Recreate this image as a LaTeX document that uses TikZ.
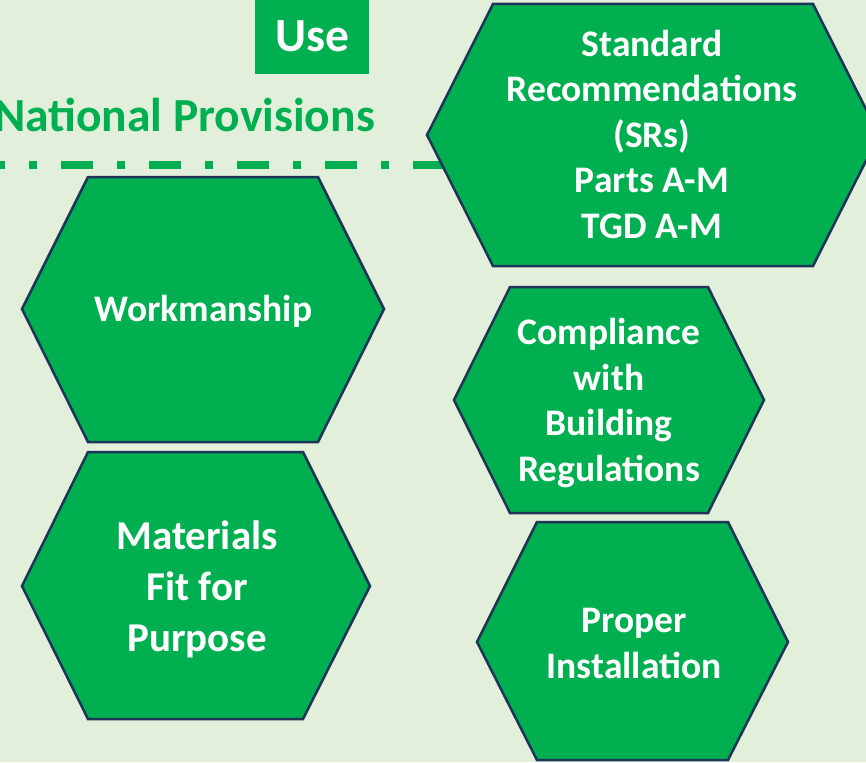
\documentclass[tikz,border=0pt]{standalone}
\usepackage{fontspec}
\setmainfont{Carlito}
\definecolor{bg}{HTML}{E2EFDA}
\definecolor{grn}{HTML}{00B050}
\definecolor{edgec}{HTML}{1F3557}
\begin{document}
\begin{tikzpicture}[x=1pt,y=-1pt,
  hexa/.style={fill=grn, draw=edgec, line width=2.5pt, line join=miter},
  hextext/.style={text=white, font=\bfseries\fontsize{37.5}{45.5}\selectfont, align=center, inner sep=0pt},
  bigtext/.style={text=white, font=\bfseries\fontsize{41}{51}\selectfont, align=center, inner sep=0pt},
  titletext/.style={text=grn, font=\bfseries\fontsize{47.5}{57}\selectfont, inner sep=0pt},
  usebox/.style={fill=grn, text=white, font=\bfseries\fontsize{47.5}{57}\selectfont, inner sep=0pt, minimum width=114pt, minimum height=75pt, text height=30pt, text depth=0pt},
  divider/.style={draw=grn, line width=7pt, dash pattern=on 32pt off 24pt on 8pt off 24pt, dash phase=27pt}
]
\useasboundingbox (0,0) rectangle (866,762);
\clip (0,0) rectangle (866,762);
\fill[bg] (0,0) rectangle (866,762);

% title elements
\node (use) [usebox] at (312,36.5) {Use};
\node (natprov) [titletext, anchor=base east] at (375,132) {National Provisions};

% dashed divider
\coordinate (divstart) at (0,165);
\coordinate (divend) at (447,165);
\draw[divider] (divstart) -- (divend);

% hexagons
\draw[hexa] (493,4) -- (813,4) -- (879,135) -- (813,266) -- (493,266) -- (427,135) -- cycle;
\draw[hexa] (88,177) -- (318,177) -- (384,309) -- (318,442) -- (88,442) -- (22,309) -- cycle;
\draw[hexa] (88,452) -- (303,452) -- (370,586) -- (303,719) -- (88,719) -- (22,586) -- cycle;
\draw[hexa] (510,287) -- (708,287) -- (764,400) -- (708,513) -- (510,513) -- (454,400) -- cycle;
\draw[hexa] (537,522) -- (728,522) -- (788,642) -- (728,760) -- (537,760) -- (477,642) -- cycle;

% hexagon texts
\node (srs) [hextext] at (652,137.9) {\strut Standard\\\strut Recommendations\\\strut (SRs)\\\strut Parts A-M\\\strut TGD A-M};
\node (work) [hextext] at (203.5,312) {\strut Workmanship};
\node (mat) [bigtext] at (197,589.8) {\strut Materials\\\strut Fit for\\\strut Purpose};
\node (comp) [hextext] at (609,404) {\strut Compliance\\\strut with\\\strut Building\\\strut Regulations};
\node (inst) [hextext] at (634,646.5) {\strut Proper\\\strut Installation};
\end{tikzpicture}
\end{document}
